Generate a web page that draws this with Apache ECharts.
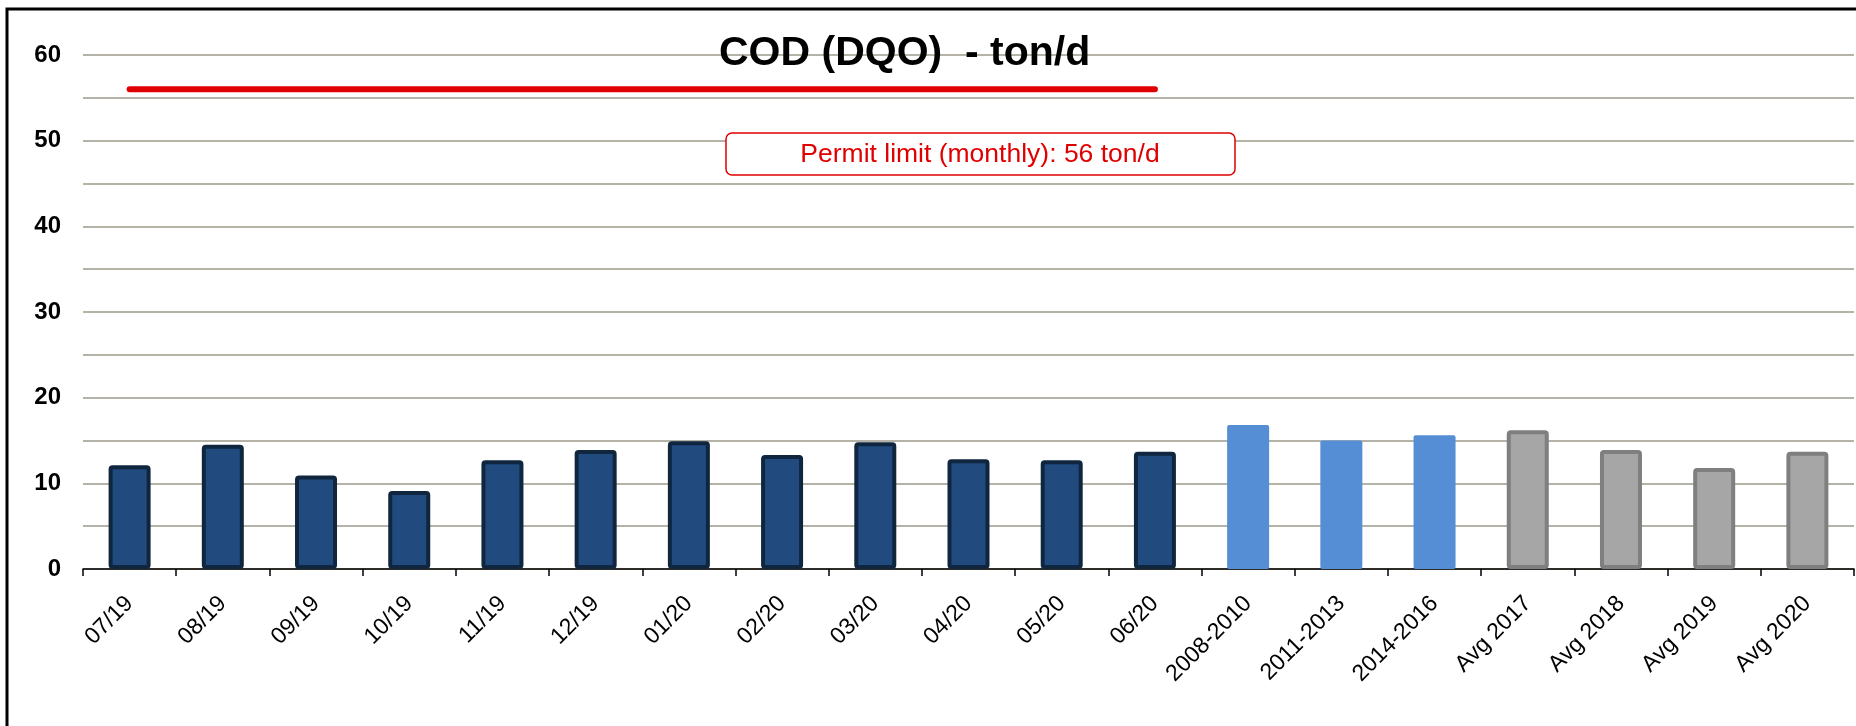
<!DOCTYPE html>
<html>
<head>
<meta charset="utf-8">
<title>COD (DQO) - ton/d</title>
<script src="https://cdn.jsdelivr.net/npm/echarts@6/dist/echarts.min.js"></script>
<style>
  html, body { margin: 0; padding: 0; background: #fff; }
  #chart { width: 1856px; height: 726px; }
</style>
</head>
<body>
<div id="chart"></div>
<script>
// 数据
const monthLabels = ['07/19', '08/19', '09/19', '10/19', '11/19', '12/19', '01/20', '02/20', '03/20', '04/20', '05/20', '06/20']
const monthValues = [12.1, 14.5, 10.9, 9.1, 12.7, 13.9, 14.9, 13.3, 14.8, 12.8, 12.7, 13.7]

const periodLabels = ['2008-2010', '2011-2013', '2014-2016']
const periodValues = [16.8, 15.0, 15.6]

const yearLabels = ['Avg 2017', 'Avg 2018', 'Avg 2019', 'Avg 2020']
const yearValues = [16.2, 13.9, 11.8, 13.7]

const yTicks = [0, 10, 20, 30, 40, 50, 60]
const permitLimit = 56
const permitText = 'Permit limit (monthly): 56 ton/d'

const FONT = '"Liberation Sans", Arial, sans-serif'

const categories = [...monthLabels, ...periodLabels, ...yearLabels]

// each group has its own look
const barItem = (value, fill, border, bw) => ({
    value,
    itemStyle: { color: fill, borderColor: border, borderWidth: bw, borderRadius: 2 }
})

const barData = [
    ...monthValues.map(v => barItem(v, '#214a7e', '#10263f', 4)),
    ...periodValues.map(v => barItem(v, '#558ed5', '#558ed5', 0)),
    ...yearValues.map(v => barItem(v, '#a6a6a6', '#7f7f7f', 4))
]

// the red limit line only runs over the monthly bars
const limitData = categories.map((c, i) => (i < monthLabels.length ? permitLimit : '-'))

const chart = echarts.init(document.getElementById('chart'), null, { renderer: 'canvas' })

const option = {
    animation: false,
    backgroundColor: '#fff',
    textStyle: { fontFamily: FONT },
    title: {
        text: 'COD (DQO)  - ton/d',
        left: 714,
        top: 28,
        textStyle: { fontFamily: FONT, fontSize: 41, fontWeight: 'bold', color: '#000' }
    },
    grid: { left: 83, right: 2, top: 55, bottom: 157, containLabel: false },
    xAxis: {
        type: 'category',
        data: categories,
        boundaryGap: true,
        axisLine: { lineStyle: { color: '#000', width: 1.5 } },
        axisTick: { show: true, length: 7, lineStyle: { color: '#000', width: 1.5 } },
        axisLabel: {
            rotate: 45,
            margin: 31,
            interval: 0,
            color: '#000',
            fontFamily: FONT,
            fontSize: 23
        },
        splitLine: { show: false }
    },
    yAxis: {
        type: 'value',
        min: 0,
        max: 60,
        interval: 5,
        axisLine: { show: false },
        axisTick: { show: false },
        axisLabel: {
            margin: 22,
            color: '#000',
            fontFamily: FONT,
            fontSize: 24,
            fontWeight: 'bold',
            formatter: v => (yTicks.includes(v) ? String(v) : '')
        },
        splitLine: { lineStyle: { color: '#b5b3a7', width: 2 } }
    },
    series: [
        {
            type: 'bar',
            data: barData,
            barWidth: 42,
            z: 3
        },
        {
            type: 'line',
            data: limitData,
            symbol: 'none',
            lineStyle: { color: '#e00000', width: 6, cap: 'round' },
            z: 4
        }
    ],
    graphic: [
        // frame, only top and left edge are visible
        {
            type: 'rect',
            shape: { x: 7, y: 9, width: 2000, height: 1000 },
            style: { fill: 'none', stroke: '#000', lineWidth: 3 },
            silent: true,
            z: 10
        },
        {
            type: 'rect',
            shape: { x: 726, y: 133, width: 509, height: 42, r: 6 },
            style: { fill: '#fff', stroke: '#e00000', lineWidth: 1.5 },
            z: 10
        },
        {
            type: 'text',
            x: 980,
            y: 155,
            style: {
                text: permitText,
                fill: '#e00000',
                font: '26.5px ' + FONT,
                textAlign: 'center',
                textVerticalAlign: 'middle'
            },
            z: 11
        }
    ]
}

chart.setOption(option)
</script>
</body>
</html>
